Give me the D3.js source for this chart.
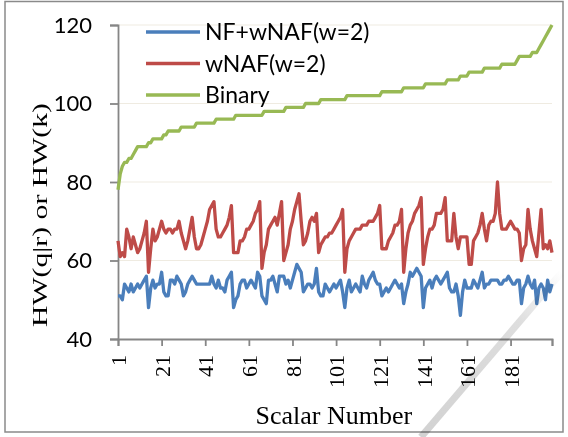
<!DOCTYPE html>
<html>
<head>
<meta charset="utf-8">
<script src="https://d3js.org/d3.v7.min.js"></script>
<style>
  body { margin: 0; background: #fff; }
  svg { display: block; }
</style>
</head>
<body>
<div id="canvas"></div>
<script>
// --- data (one value per scalar, 200 scalars)
var nfWnaf = [
  51,51,50,54,53,52,54,52,53,54, 53,54,55,56,48,53,55,53,54,54,
  57,52,51,51,55,55,54,56,55,54, 51,52,54,55,56,55,54,54,54,54,
  54,54,54,56,54,53,55,53,53,52, 55,56,57,48,50,51,54,55,55,53,
  54,55,54,53,57,56,51,50,49,55, 55,56,54,52,56,56,56,54,55,53,
  55,57,59,58,57,52,53,54,54,53, 54,58,52,51,51,54,53,52,53,54,
  53,54,55,52,48,53,55,52,53,54, 53,52,56,54,53,55,56,57,55,54,
  54,51,52,53,52,53,54,55,54,53, 54,49,52,54,57,56,57,58,57,56,
  48,53,54,55,53,55,56,55,54,55, 56,57,53,52,52,54,51,46,52,55,
  53,53,53,55,54,53,55,57,53,54, 54,55,55,55,55,54,54,55,55,56,
  55,54,54,55,55,49,53,54,56,54, 53,55,49,53,54,53,50,55,52,54
];
var wnaf = [
  65,61,62,61,68,66,63,66,64,62, 63,65,67,70,57,63,68,65,66,68,
  70,68,67,68,68,67,68,68,70,67, 65,63,65,68,71,66,63,63,64,66,
  68,70,73,74,75,68,66,66,67,68, 69,71,74,62,62,62,65,65,66,68,
  68,69,70,72,73,75,58,62,64,68, 69,70,71,69,72,75,60,62,64,68,
  70,73,75,77,70,64,65,67,70,71, 70,72,62,64,65,66,66,67,67,68,
  69,70,71,73,57,63,65,66,67,68, 68,68,69,69,69,70,70,70,71,72,
  74,63,63,63,65,66,67,69,69,70, 73,57,63,67,69,70,72,73,74,76,
  59,63,66,68,68,69,72,72,72,73, 76,65,65,65,72,66,63,66,66,66,
  66,59,59,65,66,67,69,72,68,65, 69,70,70,72,80,72,68,68,68,69,
  70,69,68,68,67,60,63,64,73,68, 65,63,61,67,73,63,64,63,65,62
];
var binary = [
  78,82,84,85,85,86,86,87,88,89, 89,89,89,89,90,90,91,91,91,91,
  91,92,92,93,93,93,93,93,93,94, 94,94,94,94,94,94,95,95,95,95,
  95,95,95,95,95,96,96,96,96,96, 96,96,96,96,97,97,97,97,97,97,
  97,97,97,97,97,97,97,98,98,98, 98,98,98,98,98,98,98,99,99,99,
  99,99,99,99,99,99,100,100,100,100, 100,100,100,101,101,101,101,101,101,101,
  101,101,101,101,101,102,102,102,102,102, 102,102,102,102,102,102,102,102,102,102,
  102,103,103,103,103,103,103,103,103,103, 103,104,104,104,104,104,104,104,104,104,
  104,105,105,105,105,105,105,105,105,105, 105,106,106,106,106,106,106,107,107,107,
  107,108,108,108,108,108,108,108,109,109, 109,109,109,109,109,109,110,110,110,110,
  110,110,110,111,112,112,112,112,112,112, 113,113,113,114,115,116,117,118,119,120
];
var seriesNames = ['NF+wNAF(w=2)', 'wNAF(w=2)', 'Binary'];
var seriesColors = ['#4a7ebb', '#be4b48', '#98b954'];
var yTicks = [40, 60, 80, 100, 120];
var xTicks = [1, 21, 41, 61, 81, 101, 121, 141, 161, 181, 200];

var series = [nfWnaf, wnaf, binary];

// --- size and plot box
var W = 568, H = 437;
var M = {top: 25, right: 16, bottom: 98, left: 118};

var svg = d3.select('#canvas')
  .append('svg')
  .attr('width', W)
  .attr('height', H);

svg.append('rect')
  .attr('x', 5).attr('y', 1.5)
  .attr('width', 558).attr('height', 430.5)
  .style('fill', '#fff')
  .style('stroke', '#8a8a8a')
  .style('stroke-width', 1.5);

var x = d3.scaleLinear().domain([1, 200]).range([M.left, W - M.right]);
var y = d3.scaleLinear().domain([40, 120]).range([H - M.bottom, M.top]);

// light gridlines
svg.append('g')
  .selectAll('line')
  .data(yTicks.slice(1))
  .join('line')
  .attr('x1', x(1)).attr('x2', x(200))
  .attr('y1', function(d) { return y(d); })
  .attr('y2', function(d) { return y(d); })
  .style('stroke', '#efebe1')
  .style('stroke-width', 1);

// --- axes
var yAxis = svg.append('g')
  .attr('transform', 'translate(' + x(1) + ',0)')
  .call(d3.axisLeft(y).tickValues(yTicks).tickSize(8).tickPadding(18));
yAxis.selectAll('text')
  .style('font-family', 'Lato, sans-serif')
  .style('font-size', '22px')
  .style('fill', '#000');

var xAxis = svg.append('g')
  .attr('transform', 'translate(0,' + y(40) + ')')
  .call(d3.axisBottom(x).tickValues(xTicks).tickSize(7)
    .tickFormat(function(d) { return d === 200 ? '' : d; }));
xAxis.selectAll('text')
  .attr('transform', 'rotate(-90)')
  .attr('x', -16).attr('y', 0).attr('dy', '0.35em')
  .style('text-anchor', 'end')
  .style('font-family', '"Liberation Serif", "Times New Roman", serif')
  .style('font-size', '22px')
  .style('fill', '#000');

svg.selectAll('.domain, .tick line')
  .style('stroke', '#868686')
  .style('stroke-width', 1.8);

// axis titles
svg.append('text')
  .attr('x', x(100)).attr('y', 424)
  .attr('text-anchor', 'middle')
  .style('font-family', '"Liberation Serif", "Times New Roman", serif')
  .style('font-size', '26px')
  .text('Scalar Number');

svg.append('text')
  .attr('transform', 'translate(47,215) rotate(-90)')
  .attr('text-anchor', 'middle')
  .attr('textLength', 224)
  .attr('lengthAdjust', 'spacingAndGlyphs')
  .style('font-family', '"Liberation Serif", "Times New Roman", serif')
  .style('font-size', '21px')
  .text('HW(q|r) or HW(k)');

// --- lines
var line = d3.line()
  .x(function(d, i) { return x(i + 1); })
  .y(function(d) { return y(d); });

svg.append('g')
  .selectAll('path')
  .data(series)
  .join('path')
  .attr('d', line)
  .style('fill', 'none')
  .style('stroke', function(d, i) { return seriesColors[i]; })
  .style('stroke-width', 3.3)
  .style('stroke-linejoin', 'round');

// --- legend
var legend = svg.append('g')
  .selectAll('g')
  .data(seriesNames)
  .join('g')
  .attr('transform', function(d, i) { return 'translate(146,' + (32 + i * 31.5) + ')'; });

legend.append('line')
  .attr('x1', 0).attr('x2', 54)
  .style('stroke', function(d, i) { return seriesColors[i]; })
  .style('stroke-width', 3.5);

legend.append('text')
  .attr('x', 59).attr('y', 8)
  .style('font-family', 'Lato, sans-serif')
  .style('font-size', '23px')
  .text(function(d) { return d; });

// faint diagonal streak across the lower right corner of the scan
var grad = svg.append('defs').append('linearGradient')
  .attr('id', 'streak')
  .attr('gradientUnits', 'userSpaceOnUse')
  .attr('x1', 421).attr('y1', 437).attr('x2', 562).attr('y2', 272);
grad.append('stop').attr('offset', 0).attr('stop-color', '#d2d2d2');
grad.append('stop').attr('offset', 0.7).attr('stop-color', '#dedede');
grad.append('stop').attr('offset', 1).attr('stop-color', '#ffffff');

svg.append('line')
  .attr('x1', 421).attr('y1', 437).attr('x2', 562).attr('y2', 272)
  .style('stroke', 'url(#streak)')
  .style('stroke-width', 7)
  .style('mix-blend-mode', 'multiply');
</script>
</body>
</html>
